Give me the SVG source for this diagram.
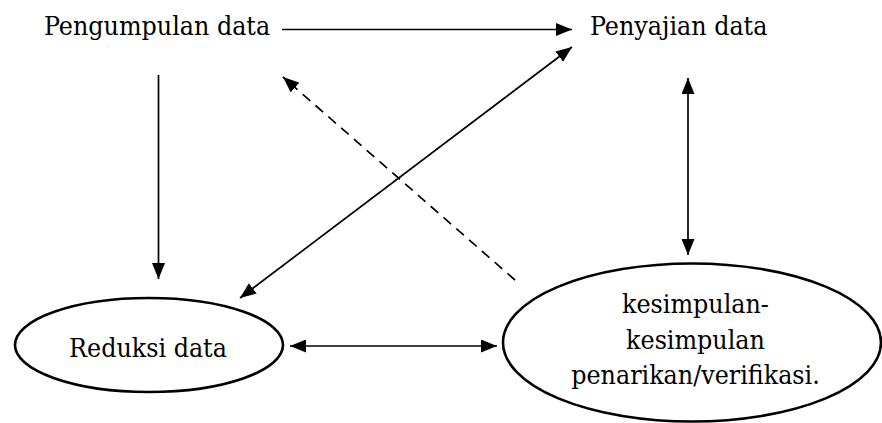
<svg xmlns="http://www.w3.org/2000/svg" width="882" height="423" viewBox="0 0 882 423">
  <style>
    text { font-family: "DejaVu Serif Condensed", "DejaVu Serif", "Liberation Serif", serif; font-stretch: condensed; font-size: 26.5px; fill: #000; }
    .mid { text-anchor: middle; }
    .node-shape { fill: #fff; stroke: #000; stroke-width: 2.6; }
    .edge { fill: none; stroke: #000; stroke-width: 1.7; }
    .dashed { stroke-dasharray: 10 7; }
  </style>
  <defs>
    <!-- filled triangular arrowhead, reused at both ends of two-way links -->
    <marker id="head" viewBox="0 0 16 13" refX="16" refY="6.5" markerWidth="16" markerHeight="13" markerUnits="userSpaceOnUse" orient="auto-start-reverse">
      <path d="M0,0 L16,6.5 L0,13 Z" fill="#000"/>
    </marker>
  </defs>
  <rect width="882" height="423" fill="#fff"/>

  <g id="connectors">
    <!-- Pengumpulan -> Penyajian -->
    <line class="edge" x1="282" y1="29.5" x2="572" y2="29.5" marker-end="url(#head)"/>
    <!-- Pengumpulan -> Reduksi -->
    <line class="edge" x1="158.5" y1="75" x2="158.5" y2="279" marker-end="url(#head)"/>
    <!-- Reduksi <-> Penyajian -->
    <line class="edge" x1="240" y1="298" x2="572" y2="47" marker-start="url(#head)" marker-end="url(#head)"/>
    <!-- Kesimpulan -> Pengumpulan (dashed) -->
    <line class="edge dashed" x1="515" y1="280" x2="283" y2="77" marker-end="url(#head)"/>
    <!-- Penyajian <-> Kesimpulan -->
    <line class="edge" x1="688" y1="78" x2="688" y2="255" marker-start="url(#head)" marker-end="url(#head)"/>
    <!-- Reduksi <-> Kesimpulan -->
    <line class="edge" x1="290" y1="346" x2="497" y2="346" marker-start="url(#head)" marker-end="url(#head)"/>
  </g>

  <g id="pengumpulan">
    <text x="44" y="35">Pengumpulan data</text>
  </g>

  <g id="penyajian">
    <text x="590" y="35">Penyajian data</text>
  </g>

  <g id="reduksi">
    <ellipse class="node-shape" cx="149" cy="345" rx="134" ry="47"/>
    <text class="mid" x="148" y="357">Reduksi data</text>
  </g>

  <g id="kesimpulan">
    <ellipse class="node-shape" cx="692" cy="342.5" rx="189" ry="79"/>
    <text class="mid" x="695.5" y="313">kesimpulan-</text>
    <text class="mid" x="695.5" y="348.5">kesimpulan</text>
    <text class="mid" x="695.5" y="384">penarikan/verifikasi.</text>
  </g>
</svg>
